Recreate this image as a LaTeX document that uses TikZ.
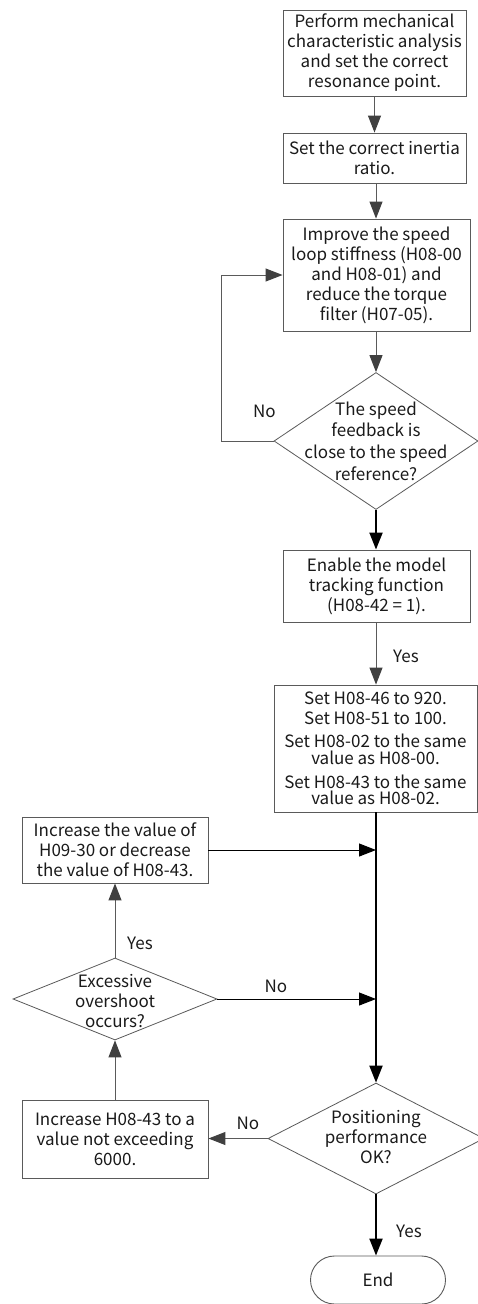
\documentclass[tikz,border=0pt]{standalone}
\usepackage{fontspec}
\setmainfont{Noto Sans CJK SC}
\usetikzlibrary{arrows.meta,shapes.geometric,shapes.misc}
\definecolor{lc}{HTML}{5A5A5A}
\definecolor{ac}{HTML}{404040}
\definecolor{tc}{HTML}{1A1A1A}
\begin{document}
\begin{tikzpicture}[x=1pt,y=-1pt,
  font=\fontsize{17}{20}\selectfont,
  every node/.style={text=tc},
  box/.style={draw=lc,line width=0.9pt,rectangle,inner sep=0pt,align=center},
  dia/.style={draw=lc,line width=0.8pt,diamond,inner sep=0pt},
  lbl/.style={align=center,inner sep=0pt},
  thin/.style={draw=lc,line width=1pt,-{Triangle[length=17pt,width=13pt,color=ac]}},
  thinb/.style={draw=black,line width=1pt,-{Triangle[length=17pt,width=13pt]}},
  thick/.style={draw=black,line width=2pt,-{Triangle[length=17pt,width=13pt]}},
  ]
\useasboundingbox (0,0) rectangle (477,1304);
\fill[white] (0,0) rectangle (477,1304);

\node[box,minimum width=183pt,minimum height=86pt] (b1) at (374.5,53)
  {Perform mechanical\\characteristic analysis\\and set the correct\\resonance point.};
\node[box,minimum width=183pt,minimum height=50pt] (b2) at (374.5,158)
  {Set the correct inertia\\ratio.};
\node[box,minimum width=187pt,minimum height=112pt] (b3) at (376.5,275)
  {Improve the speed\\loop stiffness (H08-00\\and H08-01) and\\reduce the torque\\filter (H07-05).};
\node[dia,minimum width=204pt,minimum height=137pt] (d1) at (376,441) {};
\node[lbl] (t1) at (376,441) {The speed\\[1pt]feedback is\\[2pt]close to the speed\\[2pt]reference?};
\node[box,minimum width=187pt,minimum height=72pt] (b4) at (376.5,586)
  {Enable the model\\tracking function\\(H08-42 = 1).};
\node[box,minimum width=203pt,minimum height=127pt] (b5) at (375.5,748.5)
  {Set H08-46 to 920.\\Set H08-51 to 100.\\[3pt]Set H08-02 to the same\\[-3pt]value as H08-00.\\[4pt]Set H08-43 to the same\\[-4pt]value as H08-02.};
\node[box,minimum width=186pt,minimum height=66pt] (b6) at (115,850)
  {Increase the value of\\H09-30 or decrease\\the value of H08-43.};
\node[dia,minimum width=204pt,minimum height=82pt] (d2) at (115,999) {};
\node[lbl] (t2) at (115,1001) {Excessive\\overshoot\\occurs?};
\node[box,minimum width=186pt,minimum height=78pt] (b7) at (115,1139)
  {Increase H08-43 to a\\value not exceeding\\6000.};
\node[dia,minimum width=216pt,minimum height=111pt] (d3) at (376,1138.5) {};
\node[lbl] (t3) at (376,1137) {Positioning\\performance\\OK?};
\node[draw=lc,line width=0.9pt,rounded rectangle,minimum width=135pt,minimum height=48pt,inner sep=0pt] (e) at (378,1280) {End};

\coordinate (l1) at (221,441);
\coordinate (j1) at (376,850);
\coordinate (j2) at (376,999);

\draw[thin] (b1) -- (b2);
\draw[thin] (b2.south -| 376,0) -- (b3.north -| 376,0);
\draw[thin] (b3.south -| 376,0) -- (d1.north);
\draw[draw=lc,line width=1pt] (d1.west) -- (l1);
\draw[thin] (l1) |- (b3.west);
\draw[thick] (d1.south) -- (b4.north -| d1.south);
\draw[thin] (b4.south -| d1.south) -- (b5.north -| d1.south);
\draw[thick] (b5.south -| d1.south) -- (d3.north);
\draw[thinb] (b6.east) -- (j1);
\draw[thinb] (d2.east) -- (j2);
\draw[thin] (d2.north) -- (b6.south);
\draw[thin] (b7.north) -- (d2.south);
\draw[thin] (d3.west) -- (b7.east |- d3.west);
\draw[thick] (d3.south) -- (e.north -| d3.south);

\node[lbl] (n1) at (264.5,411) {No};
\node[lbl] (y1) at (406,656) {Yes};
\node[lbl] (y2) at (140,943) {Yes};
\node[lbl] (n2) at (276,986) {No};
\node[lbl] (n3) at (248,1123) {No};
\node[lbl] (y3) at (409,1231) {Yes};
\end{tikzpicture}
\end{document}
